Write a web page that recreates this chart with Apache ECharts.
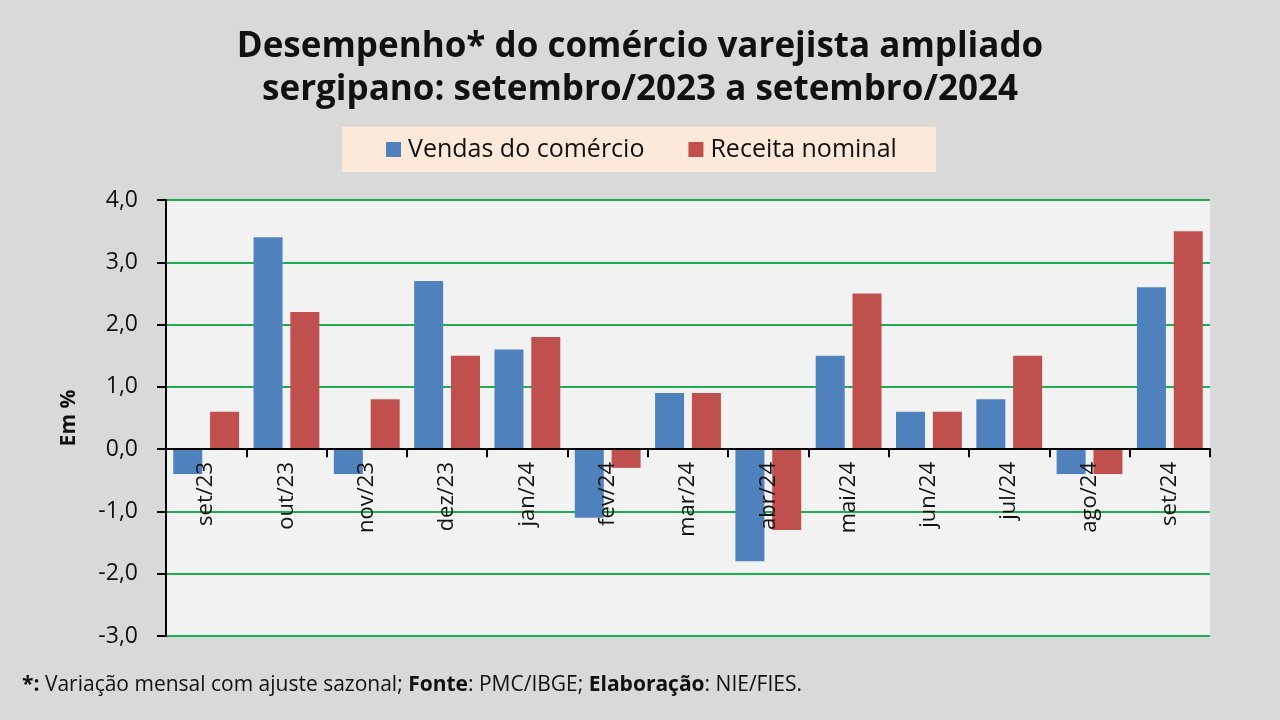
<!DOCTYPE html>
<html>
<head>
<meta charset="utf-8">
<script src="https://cdn.jsdelivr.net/npm/echarts@6/dist/echarts.min.js"></script>
<style>
html,body{margin:0;padding:0;background:#d9d9d9;}
#c{width:1280px;height:720px;}
</style>
</head>
<body>
<div id="c"></div>
<script>
const categories = ['set/23','out/23','nov/23','dez/23','jan/24','fev/24','mar/24','abr/24','mai/24','jun/24','jul/24','ago/24','set/24'];
const vendas = [-0.4, 3.4, -0.4, 2.7, 1.6, -1.1, 0.9, -1.8, 1.5, 0.6, 0.8, -0.4, 2.6];
const receita = [0.6, 2.2, 0.8, 1.5, 1.8, -0.3, 0.9, -1.3, 2.5, 0.6, 1.5, -0.4, 3.5];
const seriesNames = ['Vendas do comércio', 'Receita nominal'];
const titleLines = ['Desempenho* do comércio varejista ampliado', 'sergipano: setembro/2023 a setembro/2024'];

const chart = echarts.init(document.getElementById('c'));
const fmt = v => v.toFixed(1).replace('.', ',');
chart.setOption({
  backgroundColor: '#d9d9d9',
  animation: false,
  title: {
    text: titleLines.join('\n'),
    left: 'center',
    top: 21,
    textStyle: { fontFamily: 'Open Sans', fontWeight: 'bold', fontSize: 35, lineHeight: 43, color: '#111' }
  },
  legend: {
    data: seriesNames,
    left: 342,
    top: 127,
    padding: [10, 39, 10, 44],
    backgroundColor: '#fde9d9',
    itemWidth: 15,
    itemHeight: 15,
    itemGap: 44,
    icon: 'rect',
    textStyle: { fontFamily: 'Open Sans', fontSize: 25, color: '#111', padding: [0, 0, 0, 2] }
  },
  grid: {
    left: 166, right: 70, top: 200, bottom: 84,
    show: true, backgroundColor: '#f2f2f2', borderWidth: 0
  },
  xAxis: {
    type: 'category',
    data: categories,
    z: 5,
    axisLine: { onZero: true, lineStyle: { color: '#000', width: 2 } },
    axisTick: { show: true, interval: 0, length: 8, lineStyle: { color: '#000', width: 2 } },
    axisLabel: { rotate: 90, interval: 0, fontFamily: 'Open Sans', fontSize: 22, color: '#111', margin: -174 },
    splitLine: { show: false }
  },
  yAxis: {
    type: 'value',
    min: -3, max: 4, interval: 1,
    name: 'Em %',
    nameLocation: 'middle',
    nameRotate: 90,
    nameGap: 86,
    nameTextStyle: { fontFamily: 'Open Sans', fontSize: 21, fontWeight: 'bold', color: '#111' },
    axisLine: { show: true, lineStyle: { color: '#000', width: 2 } },
    axisTick: { show: true, length: 9, lineStyle: { color: '#000', width: 2 } },
    axisLabel: { formatter: fmt, fontFamily: 'Open Sans', fontSize: 23, color: '#111', margin: 28 },
    splitLine: { show: true, lineStyle: { color: '#1fae4f', width: 2 } }
  },
  series: [
    { name: seriesNames[0], type: 'bar', data: vendas, itemStyle: { color: '#4f81bd' }, barWidth: 29, barGap: '27%' },
    { name: seriesNames[1], type: 'bar', data: receita, itemStyle: { color: '#c0504d' }, barWidth: 29 }
  ],
  graphic: [{
    type: 'text',
    left: 22,
    top: 675,
    style: {
      text: '{b|*:} Variação mensal com ajuste sazonal; {b|Fonte}: PMC/IBGE; {b|Elaboração}: NIE/FIES.',
      fontFamily: 'Open Sans',
      fontSize: 21,
      fill: '#111',
      rich: { b: { fontFamily: 'Open Sans', fontSize: 21, fontWeight: 'bold', fill: '#111' } }
    }
  }]
});
</script>
</body>
</html>
